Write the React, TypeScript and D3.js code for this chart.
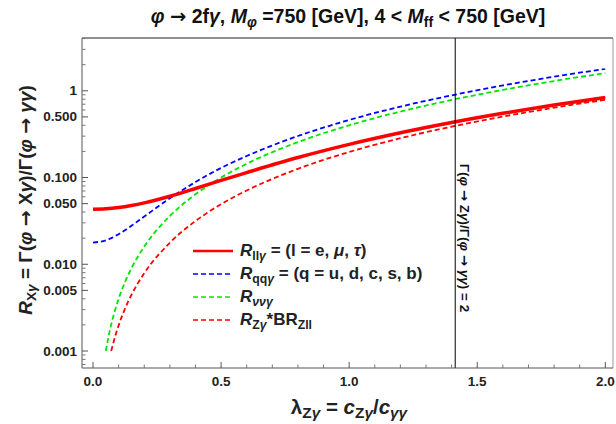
import React from 'react';
import * as d3 from 'd3';

const W = 616, H = 424;
const PL = 82, PT = 38, PR = 613, PB = 368;
const X_DOMAIN = [-0.043, 2.03];
const Y_DOMAIN = [6.37e-4, 4.06];

// R_llγ (red solid)
const lamLL = [0, 0.05, 0.1, 0.15, 0.2, 0.3, 0.4, 0.5, 0.6, 0.8, 1.0, 1.2, 1.4, 1.6, 1.8, 2.0];
const valLL = [0.0431, 0.0436, 0.0451, 0.0476, 0.051, 0.0609, 0.0748, 0.0926, 0.114, 0.17, 0.241, 0.328, 0.431, 0.55, 0.685, 0.835];
// R_qqγ (blue dashed)
const lamQQ = [0, 0.05, 0.1, 0.15, 0.2, 0.3, 0.4, 0.5, 0.6, 0.8, 1.0, 1.2, 1.4, 1.6, 1.8, 2.0];
const valQQ = [0.0178, 0.0189, 0.0222, 0.0278, 0.0355, 0.0577, 0.0887, 0.129, 0.177, 0.301, 0.461, 0.656, 0.886, 1.152, 1.453, 1.79];
// R_ννγ (green dashed)
const lamNN = [0.05, 0.06, 0.07, 0.085, 0.1, 0.125, 0.15, 0.2, 0.3, 0.4, 0.5, 0.6, 0.8, 1.0, 1.2, 1.4, 1.6, 1.8, 2.0];
const valNN = [0.001, 0.00144, 0.00196, 0.00289, 0.004, 0.00625, 0.009, 0.016, 0.036, 0.064, 0.1, 0.144, 0.256, 0.4, 0.576, 0.784, 1.024, 1.296, 1.6];
// R_Zγ*BR_Zll (red dashed)
const lamZ = [0.071, 0.08, 0.09, 0.1, 0.125, 0.15, 0.2, 0.3, 0.4, 0.5, 0.6, 0.8, 1.0, 1.2, 1.4, 1.6, 1.8, 2.0];
const valZ = [0.001, 0.00126, 0.0016, 0.00197, 0.00308, 0.00443, 0.00788, 0.0177, 0.0315, 0.0493, 0.0709, 0.126, 0.197, 0.284, 0.386, 0.504, 0.638, 0.788];

const xMajor = [0, 0.5, 1.0, 1.5, 2.0];
const xMajorLabels = ['0.0', '0.5', '1.0', '1.5', '2.0'];
const yMajor = [1, 0.5, 0.1, 0.05, 0.01, 0.005, 0.001];
const yMajorLabels = ['1', '0.500', '0.100', '0.050', '0.010', '0.005', '0.001'];
const VLINE = 1.414;

const FONT = "'Liberation Sans', Arial, sans-serif";
const ARROW_FONT = "'DejaVu Sans', sans-serif";

const Arr = () => <tspan fontFamily={ARROW_FONT}>→</tspan>;

export default function App() {
  const x = d3.scaleLinear().domain(X_DOMAIN).range([PL, PR]);
  const y = d3.scaleLog().domain(Y_DOMAIN).range([PB, PT]);
  const line = (xs: number[], vs: number[]) =>
    d3.line<number>().x((_, i) => x(xs[i])).y((v) => y(v)).curve(d3.curveMonotoneX)(vs) || '';

  const xMinor = d3.range(0, 21).map((i) => i / 10).filter((v) => !xMajor.some((m) => Math.abs(m - v) < 1e-6));
  const yMinor: number[] = [];
  for (let e = -4; e <= 0; e++) {
    for (let k = 1; k <= 9; k++) {
      const v = k * Math.pow(10, e);
      if (v > Y_DOMAIN[0] && v < Y_DOMAIN[1] && !yMajor.some((m) => Math.abs(m - v) / v < 1e-6)) yMinor.push(v);
    }
  }

  const legend = [
    { color: '#ff0000', dash: null, w: 2.5 },
    { color: '#0000ff', dash: '5,3', w: 1.6 },
    { color: '#00e600', dash: '5,3', w: 1.6 },
    { color: '#ff0000', dash: '5,3', w: 1.6 },
  ];
  const legY = [251, 274, 297, 320];

  return (
    <svg width={W} height={H} style={{ position: 'absolute', left: 0, top: 0, background: '#fff' }} fontFamily={FONT}>
      <rect x={0} y={0} width={W} height={H} fill="#fff" />
      {/* Title */}
      <text x={348} y={23} textAnchor="middle" fontSize={19.5} fontWeight="bold" fill="#111">
        <tspan fontStyle="italic">φ</tspan> <Arr /> 2f<tspan fontStyle="italic">γ</tspan>, <tspan fontStyle="italic">M</tspan>
        <tspan dy={4} fontSize="0.72em" fontStyle="italic">φ</tspan>
        <tspan dy={-4}> =750 [GeV], 4 &lt; </tspan><tspan fontStyle="italic">M</tspan>
        <tspan dy={4} fontSize="0.72em">ff</tspan>
        <tspan dy={-4}> &lt; 750 [GeV]</tspan>
      </text>

      {/* curves */}
      <g fill="none">
        <path d={line(lamQQ, valQQ)} stroke="#0000ff" strokeWidth={1.8} strokeDasharray="5,3" />
        <path d={line(lamNN, valNN)} stroke="#00e600" strokeWidth={1.8} strokeDasharray="5,3" />
        <path d={line(lamZ, valZ)} stroke="#ff0000" strokeWidth={1.8} strokeDasharray="5,3" />
        <path d={line(lamLL, valLL)} stroke="#ff0000" strokeWidth={3.5} />
      </g>

      {/* vertical line */}
      <line x1={x(VLINE)} x2={x(VLINE)} y1={PT} y2={PB} stroke="#000" strokeWidth={1} />
      <text transform={`translate(${x(VLINE) + 5},238) rotate(90)`} textAnchor="middle" fontSize={13.5} fontWeight="bold" fill="#111">
        Γ(<tspan fontStyle="italic">φ</tspan> <Arr /> Z<tspan fontStyle="italic">γ</tspan>)/Γ(<tspan fontStyle="italic">φ</tspan> <Arr /> <tspan fontStyle="italic">γγ</tspan>) = 2
      </text>

      {/* frame */}
      <line x1={PL} x2={PR} y1={PT} y2={PT} stroke="#222" strokeWidth={1} />
      <line x1={PR} x2={PR} y1={PT} y2={PB} stroke="#999" strokeWidth={1} />
      <line x1={PL} x2={PR} y1={PB} y2={PB} stroke="#555" strokeWidth={1} />
      <line x1={PL} x2={PL} y1={PT} y2={PB} stroke="#555" strokeWidth={1} />

      {/* x ticks */}
      {xMajor.map((v, i) => (
        <g key={'xm' + i}>
          <line x1={x(v)} x2={x(v)} y1={PB} y2={PB - 6} stroke="#555" />
          <text x={x(v)} y={386} textAnchor="middle" fontSize={13.5} fontWeight="bold" fill="#222">{xMajorLabels[i]}</text>
        </g>
      ))}
      {xMinor.map((v, i) => (
        <line key={'xn' + i} x1={x(v)} x2={x(v)} y1={PB} y2={PB - 3.5} stroke="#777" />
      ))}

      {/* y ticks */}
      {yMajor.map((v, i) => (
        <g key={'ym' + i}>
          <line x1={PL} x2={PL + 6} y1={y(v)} y2={y(v)} stroke="#555" />
          <text x={77} y={y(v) + 4.5} textAnchor="end" fontSize={13.5} fontWeight="bold" fill="#222">{yMajorLabels[i]}</text>
        </g>
      ))}
      {yMinor.map((v, i) => (
        <line key={'yn' + i} x1={PL} x2={PL + 3.5} y1={y(v)} y2={y(v)} stroke="#777" />
      ))}

      {/* axis labels */}
      <text x={349} y={414} textAnchor="middle" fontSize={20.5} fontWeight="bold" fill="#222">
        λ<tspan dy={4} fontSize="0.75em">Z</tspan><tspan fontSize="0.75em" fontStyle="italic">γ</tspan>
        <tspan dy={-4}> = </tspan><tspan fontStyle="italic">c</tspan>
        <tspan dy={4} fontSize="0.75em">Z</tspan><tspan fontSize="0.75em" fontStyle="italic">γ</tspan>
        <tspan dy={-4}>/</tspan><tspan fontStyle="italic">c</tspan>
        <tspan dy={4} fontSize="0.75em" fontStyle="italic">γγ</tspan>
      </text>
      <text transform="translate(32,200) rotate(-90)" textAnchor="middle" fontSize={19} fontWeight="bold" fill="#222">
        <tspan fontStyle="italic">R</tspan>
        <tspan dy={4} fontSize="0.72em">X</tspan><tspan fontSize="0.72em" fontStyle="italic">γ</tspan>
        <tspan dy={-4}> = Γ(</tspan><tspan fontStyle="italic">φ</tspan> <Arr /> X<tspan fontStyle="italic">γ</tspan>
        <tspan>)/Γ(</tspan><tspan fontStyle="italic">φ</tspan> <Arr /> <tspan fontStyle="italic">γγ</tspan><tspan>)</tspan>
      </text>

      {/* legend */}
      {legend.map((l, i) => (
        <line key={'lg' + i} x1={193} x2={233} y1={legY[i]} y2={legY[i]} stroke={l.color} strokeWidth={l.w} strokeDasharray={l.dash || undefined} />
      ))}
      <g fontSize={17} fontWeight="bold" fill="#222">
        <text x={240} y={legY[0] + 5}>
          <tspan fontStyle="italic">R</tspan>
          <tspan dy={4} fontSize="0.72em">ll</tspan><tspan fontSize="0.72em" fontStyle="italic">γ</tspan>
          <tspan dy={-4}> = (l = e, </tspan><tspan fontStyle="italic">μ</tspan>, <tspan fontStyle="italic">τ</tspan>)
        </text>
        <text x={240} y={legY[1] + 5}>
          <tspan fontStyle="italic">R</tspan>
          <tspan dy={4} fontSize="0.72em">qq</tspan><tspan fontSize="0.72em" fontStyle="italic">γ</tspan>
          <tspan dy={-4}> = (q = u, d, c, s, b)</tspan>
        </text>
        <text x={240} y={legY[2] + 5}>
          <tspan fontStyle="italic">R</tspan>
          <tspan dy={4} fontSize="0.72em" fontStyle="italic">ννγ</tspan>
        </text>
        <text x={240} y={legY[3] + 5}>
          <tspan fontStyle="italic">R</tspan>
          <tspan dy={4} fontSize="0.72em">Z</tspan><tspan fontSize="0.72em" fontStyle="italic">γ</tspan>
          <tspan dy={-4}>*BR</tspan>
          <tspan dy={4} fontSize="0.72em">Zll</tspan>
        </text>
      </g>
    </svg>
  );
}
